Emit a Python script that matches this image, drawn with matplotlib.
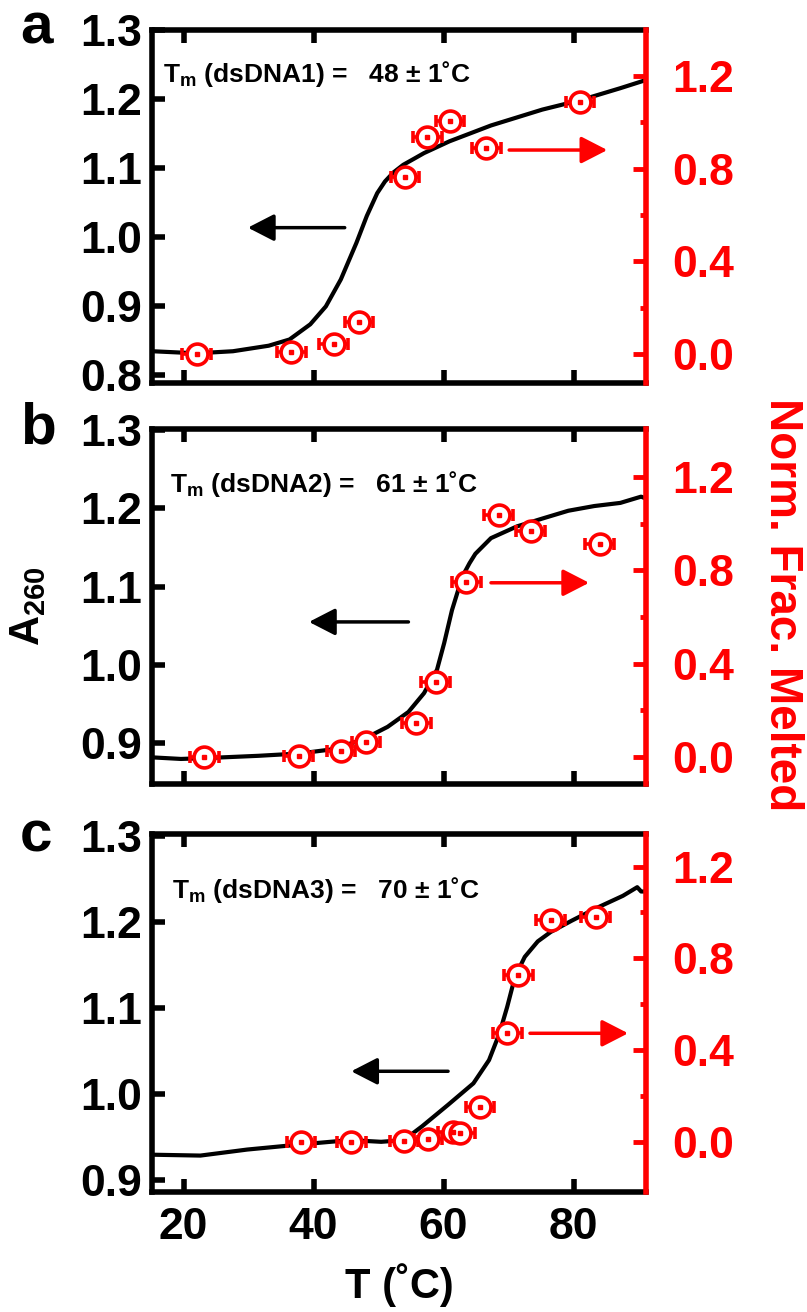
import numpy as np
import matplotlib
matplotlib.use("Agg")
import matplotlib.pyplot as plt
from matplotlib.ticker import FormatStrFormatter, FixedLocator

plt.rcParams['font.family'] = ['Liberation Sans', 'DejaVu Sans']
plt.rcParams['font.weight'] = 'bold'
plt.rcParams['mathtext.fontset'] = 'custom'
plt.rcParams['mathtext.rm'] = 'Liberation Sans:bold'
plt.rcParams['mathtext.it'] = 'Liberation Sans:bold'
plt.rcParams['mathtext.bf'] = 'Liberation Sans:bold'

# --------------------------
# Absorbance melting curves (A260 vs T)
# --------------------------
t_a = [15.2, 22.0, 27.6, 33.1, 36.3, 39.5, 41.9, 44.2, 46.6, 48.2, 49.8, 51.0,
       52.3, 53.8, 55.5, 57.0, 60.9, 67.3, 75.2, 81.2, 87.2, 91.2]
a260_a = [0.834, 0.831, 0.834, 0.842, 0.851, 0.873, 0.899, 0.938, 0.991, 1.030,
          1.063, 1.080, 1.093, 1.104, 1.113, 1.121, 1.138, 1.161, 1.184, 1.198,
          1.215, 1.227]

t_b = [15.2, 19.6, 23.2, 31.5, 37.9, 42.6, 47.4, 51.4, 54.6, 57.0, 59.0, 60.1,
       61.3, 62.9, 64.0, 64.9, 67.3, 71.3, 75.2, 79.2, 83.2, 87.2, 90.4, 91.6]
a260_b = [0.882, 0.880, 0.881, 0.884, 0.887, 0.892, 0.904, 0.921, 0.940, 0.964,
          0.994, 1.028, 1.070, 1.113, 1.130, 1.142, 1.162, 1.177, 1.187, 1.197,
          1.203, 1.207, 1.215, 1.211]

t_c = [15.2, 22.6, 29.8, 38.1, 45.6, 50.4, 53.9, 56.7, 60.7, 64.6, 67.0, 68.6,
       69.8, 71.0, 72.5, 74.5, 76.5, 79.7, 83.6, 87.6, 89.8, 90.4, 91.4]
a260_c = [0.929, 0.928, 0.935, 0.941, 0.946, 0.944, 0.946, 0.962, 0.987, 1.012,
          1.039, 1.070, 1.101, 1.136, 1.159, 1.177, 1.188, 1.201, 1.216, 1.230,
          1.240, 1.235, 1.235]

# --------------------------
# Normalized fraction melted (right axis)
# --------------------------
pt_a = [22.0, 36.6, 43.1, 47.0, 54.1, 57.5, 61.0, 66.6, 81.0]
frac_a = [0.0, 0.008, 0.042, 0.137, 0.764, 0.938, 1.005, 0.890, 1.087]

pt_b = [23.2, 37.7, 44.2, 48.1, 55.8, 58.8, 63.5, 68.5, 73.4, 84.0]
frac_b = [0.0, 0.004, 0.026, 0.062, 0.143, 0.322, 0.752, 1.038, 0.971, 0.914]

pt_c = [38.1, 45.8, 53.9, 57.6, 61.4, 62.6, 65.6, 69.8, 71.5, 76.5, 83.4]
frac_c = [0.0, 0.0, 0.003, 0.012, 0.044, 0.036, 0.153, 0.473, 0.727, 0.967, 0.979]

t_err = 2.2

# melting temperatures
tm_labels = ["dsDNA1", "dsDNA2", "dsDNA3"]
tm_values = [48, 61, 70]
tm_err = 1

# axis ranges
xlim = (15.15, 91.15)
ylims_left = [(0.788, 1.30), (0.848, 1.301), (0.886, 1.3015)]
ylims_right = [(-0.125, 1.40), (-0.117, 1.406), (-0.218, 1.341)]
left_ticks = [[0.8, 0.9, 1.0, 1.1, 1.2, 1.3],
              [0.9, 1.0, 1.1, 1.2, 1.3],
              [0.9, 1.0, 1.1, 1.2, 1.3]]
right_major = [0.0, 0.4, 0.8, 1.2]
right_minor = [0.2, 0.6, 1.0]
x_ticks = [20, 40, 60, 80]

# arrows: (start T, end T, level)
black_arrows = [(44.8, 29.9, 1.013), (54.6, 39.3, 1.055), (60.7, 45.8, 1.026)]
red_arrows = [(70.1, 85.2, 0.880), (67.3, 82.4, 0.747), (73.3, 88.4, 0.473)]

curves = [(t_a, a260_a), (t_b, a260_b), (t_c, a260_c)]
points = [(pt_a, frac_a), (pt_b, frac_b), (pt_c, frac_c)]
letters = ["a", "b", "c"]

# --------------------------
# Figure layout
# --------------------------
W, H = 807, 1312
fig = plt.figure(figsize=(W / 100, H / 100), dpi=100)

boxes = [(29.5, 383.0), (429.3, 784.0), (834.3, 1191.7)]
letter_base = [44, 443, 852]
tm_pos = [(0.022, 0.851), (0.037, 0.824), (0.041, 0.821)]
left_px, right_px = 152, 646

TICK_FS = 32
for i in range(3):
    top, bot = boxes[i]
    ax = fig.add_axes([left_px / W, 1 - bot / H, (right_px - left_px) / W, (bot - top) / H])
    ax2 = ax.twinx()

    ax.plot(curves[i][0], curves[i][1], color='black', lw=3.0, zorder=2)
    ax.set_xlim(*xlim)
    ax.set_ylim(*ylims_left[i])
    ax.set_xticks(x_ticks)
    ax.set_yticks(left_ticks[i])
    ax.yaxis.set_major_formatter(FormatStrFormatter('%.1f'))
    ax.tick_params(axis='both', direction='in', length=9.5, width=4, labelsize=TICK_FS)
    ax.tick_params(axis='x', top=True, bottom=True, pad=11)
    ax.tick_params(axis='y', pad=7)
    if i < 2:
        ax.tick_params(axis='x', labelbottom=False)
    for s in ['left', 'top', 'bottom']:
        ax.spines[s].set_linewidth(4)
    ax.spines['right'].set_visible(False)

    ax2.errorbar(points[i][0], points[i][1], xerr=t_err, fmt='o', mfc='white', mec='red',
                 ecolor='red', ms=15, mew=2.6, elinewidth=2.6, capsize=4.5, capthick=2.6,
                 zorder=3)
    ax2.plot(points[i][0], points[i][1], 's', color='red', ms=3, zorder=4)
    ax2.set_ylim(*ylims_right[i])
    ax2.yaxis.set_major_locator(FixedLocator(right_major))
    ax2.yaxis.set_minor_locator(FixedLocator(right_minor))
    ax2.yaxis.set_major_formatter(FormatStrFormatter('%.1f'))
    ax2.tick_params(axis='y', which='major', direction='in', length=9.5, width=3.5,
                    colors='red', labelsize=TICK_FS, pad=19)
    ax2.tick_params(axis='y', which='minor', direction='in', length=4.5, width=3.5,
                    colors='red')
    for s in ['left', 'top', 'bottom']:
        ax2.spines[s].set_visible(False)
    ax2.spines['right'].set_color('red')
    ax2.spines['right'].set_linewidth(4)

    x0, x1, yb = black_arrows[i]
    ax.annotate('', xy=(x1, yb), xytext=(x0, yb),
                arrowprops=dict(arrowstyle='-|>,head_length=1.07,head_width=0.55',
                                color='black', lw=2.5, mutation_scale=15,
                                shrinkA=0, shrinkB=0))
    x0, x1, yr = red_arrows[i]
    ax2.annotate('', xy=(x1, yr), xytext=(x0, yr),
                 arrowprops=dict(arrowstyle='-|>,head_length=1.07,head_width=0.55',
                                 color='red', lw=2.5, mutation_scale=15,
                                 shrinkA=0, shrinkB=0))

    ax2.text(tm_pos[i][0], tm_pos[i][1],
             "T$_{\\mathrm{m}}$ (%s) =   %d \u00b1 %d\u02daC" % (tm_labels[i], tm_values[i], tm_err),
             transform=ax.transAxes, fontsize=19, fontweight='bold', va='baseline', ha='left')

    fig.text(20 / W, 1 - letter_base[i] / H, letters[i], fontsize=42, fontweight='bold',
             va='baseline', ha='left')

    if i == 2:
        fig.text((left_px + right_px) / 2 / W, 1 - 1298 / H, "T (\u02daC)", fontsize=30,
                 fontweight='bold', ha='center', va='baseline')

fig.text(28 / W, 1 - 606 / H, "A$_{\\mathrm{260}}$", fontsize=30, fontweight='bold',
         rotation=90, ha='center', va='center')
fig.text(782 / W, 1 - 605 / H, "Norm. Frac. Melted", fontsize=33, fontweight='bold',
         color='red', rotation=270, ha='center', va='center')

fig.savefig("out.png", dpi=100)
